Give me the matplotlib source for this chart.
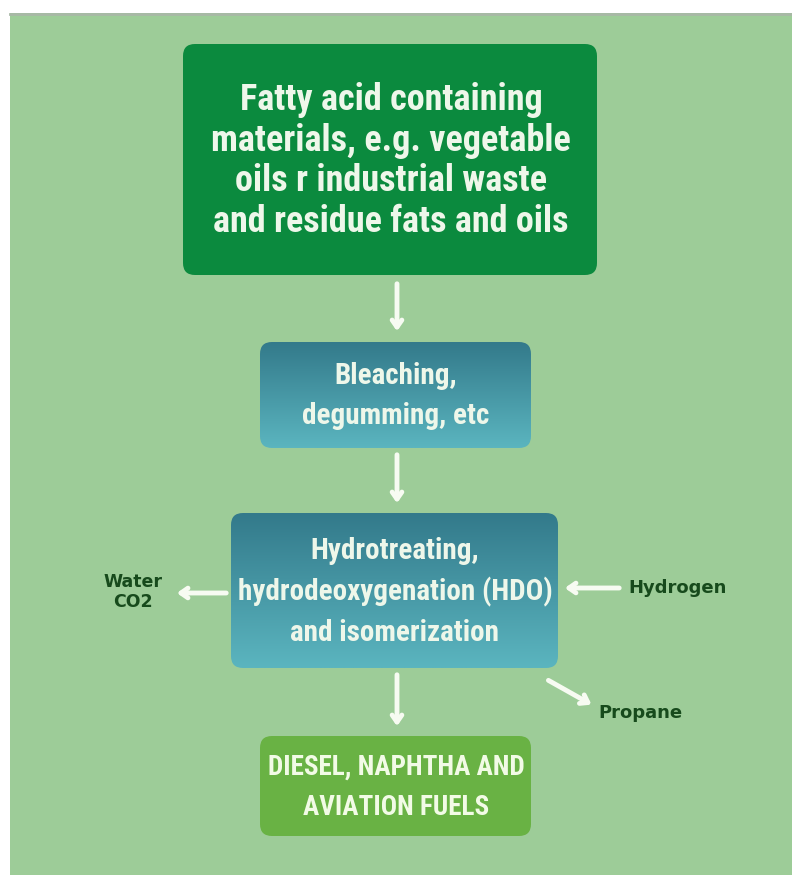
import numpy as np
import matplotlib
matplotlib.use('Agg')
import matplotlib.pyplot as plt
from matplotlib.patches import FancyBboxPatch, Rectangle
from matplotlib import font_manager

# flowchart content
box_texts = ['Fatty acid containing\nmaterials, e.g. vegetable\noils r industrial waste\nand residue fats and oils',
             'Bleaching,\ndegumming, etc',
             'Hydrotreating,\nhydrodeoxygenation (HDO)\nand isomerization',
             'DIESEL, NAPHTHA AND\nAVIATION FUELS']
side_labels = ['Water\nCO2', 'Hydrogen', 'Propane']

names = set(f.name for f in font_manager.fontManager.ttflist)
font = 'DejaVu Sans'
for cand in ['Roboto Condensed', 'Liberation Sans Narrow', 'Open Sans Condensed']:
    if cand in names:
        font = cand
        break

fig = plt.figure(figsize=(7.92, 8.75), dpi=100)
ax = fig.add_axes([0, 0, 1, 1])
ax.set_xlim(0, 792)
ax.set_ylim(875, 0)
ax.axis('off')

BG = '#9dcc98'
ax.add_patch(Rectangle((10, 13), 790, 870, facecolor=BG, edgecolor='none'))
ax.plot([10, 792], [14, 14], color='#a8b8a6', lw=2)

def box(x0, y0, x1, y1, color=None, grad=None, r=12):
    p = FancyBboxPatch((x0 + r, y0 + r), x1 - x0 - 2 * r, y1 - y0 - 2 * r,
                       boxstyle='round,pad=%d' % r,
                       facecolor=color if color else 'none', edgecolor='none')
    ax.add_patch(p)
    if grad:
        c0 = np.array(matplotlib.colors.to_rgb(grad[0]))
        c1 = np.array(matplotlib.colors.to_rgb(grad[1]))
        t = np.linspace(0, 1, 100)[:, None, None]
        img = c0 * (1 - t) + c1 * t
        im = ax.imshow(img, extent=(x0, x1, y1, y0), aspect='auto', zorder=1)
        im.set_clip_path(p)

box(183, 44, 597, 275, color='#0b8a3e')
box(260, 342, 531, 448, grad=('#337a8b', '#5bb5bf'))
box(231, 513, 558, 668, grad=('#337a8b', '#5bb5bf'))
box(260, 736, 531, 836, color='#69b244')

tc = '#eef7ea'
ax.text(391, 161, box_texts[0], ha='center', va='center', color=tc, fontsize=26,
        fontweight='bold', family=font, linespacing=1.17, zorder=3)
ax.text(396, 396, box_texts[1], ha='center', va='center', color=tc, fontsize=21,
        fontweight='bold', family=font, linespacing=1.53, zorder=3)
ax.text(395, 592, box_texts[2], ha='center', va='center', color=tc, fontsize=21,
        fontweight='bold', family=font, linespacing=1.53, zorder=3)
ax.text(396, 787, box_texts[3], ha='center', va='center', color='#f2fbe6', fontsize=19.5,
        fontweight='bold', family=font, linespacing=1.65, zorder=3)

lc = '#174a1c'
ax.text(133, 592, side_labels[0], ha='center', va='center', color=lc, fontsize=12.5,
        fontweight='bold', linespacing=1.1)
ax.text(628, 588, side_labels[1], ha='left', va='center', color=lc, fontsize=13,
        fontweight='bold')
ax.text(598, 713, side_labels[2], ha='left', va='center', color=lc, fontsize=13,
        fontweight='bold')

def arrow(x0, y0, x1, y1):
    ax.annotate('', xy=(x1, y1), xytext=(x0, y0), zorder=4,
                arrowprops=dict(arrowstyle='->,head_length=0.5,head_width=0.35',
                                color='#f7fbf2', lw=3.5))

arrow(397, 281, 397, 334)
arrow(397, 452, 397, 506)
arrow(397, 672, 397, 729)
arrow(229, 593, 174, 593)
arrow(622, 588, 562, 588)
arrow(546, 679, 594, 706)

fig.savefig('out.png', dpi=100)
